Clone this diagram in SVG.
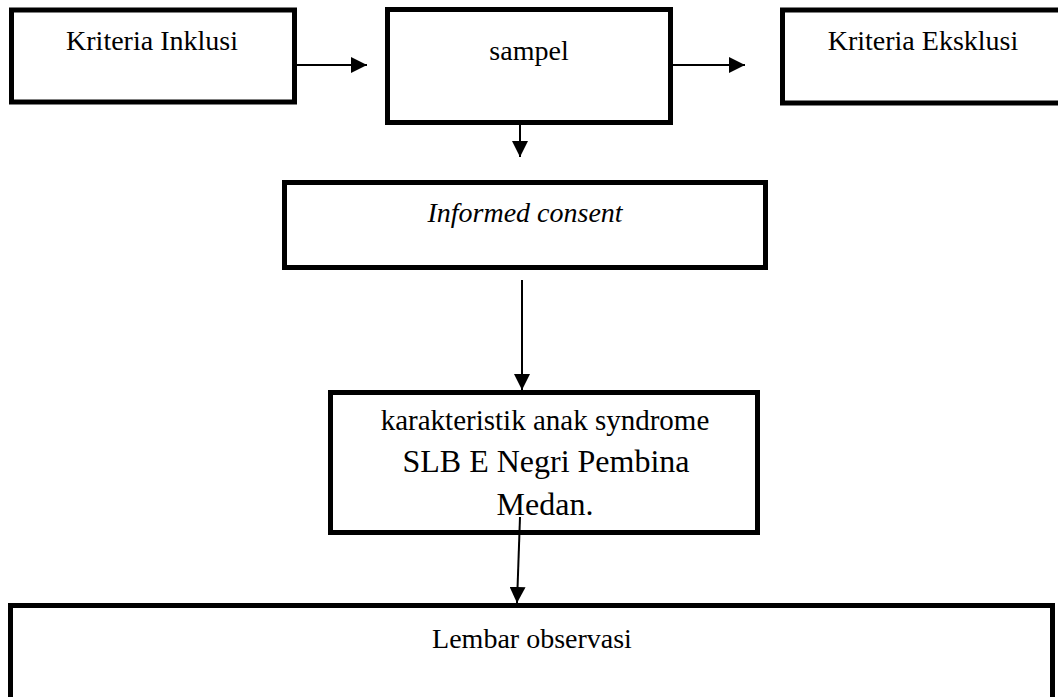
<svg xmlns="http://www.w3.org/2000/svg" width="1058" height="697" viewBox="0 0 1058 697">
  <style>
    .box { fill: #ffffff; stroke: #000000; stroke-width: 5; }
    .lbl { font-family: "Liberation Serif", "Times New Roman", serif; fill: #000000; text-anchor: middle; }
    .conn { stroke: #000000; stroke-width: 2; fill: none; }
  </style>
  <defs>
    <marker id="arr" viewBox="0 0 16 16" refX="16" refY="8" markerWidth="16" markerHeight="16" markerUnits="userSpaceOnUse" orient="auto">
      <path d="M0,0 L16,8 L0,16 Z" fill="#000000"/>
    </marker>
  </defs>
  <rect width="1058" height="697" fill="#ffffff"/>

  <g id="kriteria-inklusi">
    <rect class="box" x="11.5" y="10" width="283" height="92"/>
    <text class="lbl" x="152" y="50" font-size="28">Kriteria Inklusi</text>
  </g>

  <g id="sampel">
    <rect class="box" x="387.5" y="9.5" width="283" height="113"/>
    <text class="lbl" x="529" y="60" font-size="28">sampel</text>
  </g>

  <g id="kriteria-eksklusi">
    <rect class="box" x="782.5" y="10" width="283" height="93"/>
    <text class="lbl" x="923" y="50" font-size="28">Kriteria Eksklusi</text>
  </g>

  <g id="informed-consent">
    <rect class="box" x="284.5" y="182.5" width="481" height="85"/>
    <text class="lbl" x="525" y="222" font-size="28" font-style="italic">Informed consent</text>
  </g>

  <g id="karakteristik">
    <rect class="box" x="330.5" y="392.5" width="427" height="140"/>
    <text class="lbl" x="545" y="430" font-size="29">karakteristik anak syndrome</text>
    <text class="lbl" x="546" y="472" font-size="32">SLB E Negri Pembina</text>
    <text class="lbl" x="545" y="515" font-size="32">Medan.</text>
  </g>

  <g id="lembar-observasi">
    <rect class="box" x="10.5" y="605.5" width="1042" height="120"/>
    <text class="lbl" x="532" y="648" font-size="28">Lembar observasi</text>
  </g>

  <g id="connectors">
    <line class="conn" x1="297" y1="65" x2="367" y2="65" marker-end="url(#arr)"/>
    <line class="conn" x1="673" y1="65" x2="745" y2="65" marker-end="url(#arr)"/>
    <line class="conn" x1="520" y1="125" x2="520" y2="157" marker-end="url(#arr)"/>
    <line class="conn" x1="522" y1="280" x2="522" y2="390" marker-end="url(#arr)"/>
    <line class="conn" x1="520" y1="517" x2="517" y2="603" marker-end="url(#arr)"/>
  </g>
</svg>
